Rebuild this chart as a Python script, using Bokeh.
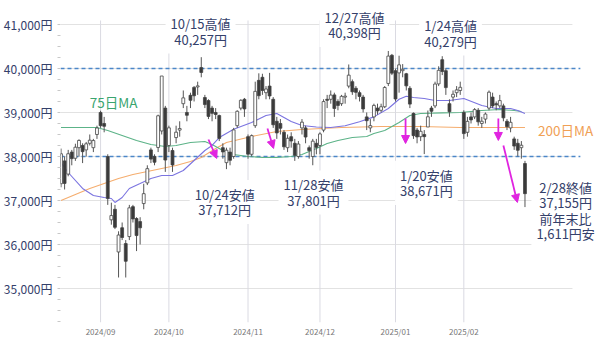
from bokeh.plotting import figure
from bokeh.models import (ColumnDataSource, Label, Arrow, NormalHead,
                          FixedTicker, Range1d)
from bokeh.embed import file_html
from bokeh.resources import INLINE

# ---------------- data ----------------
trade_days = [
    ("2024-08", [16, 19, 20, 21, 22, 23, 26, 27, 28, 29, 30]),
    ("2024-09", [2, 3, 4, 5, 6, 9, 10, 11, 12, 13, 17, 18, 19, 20, 24, 25, 26, 27, 30]),
    ("2024-10", [1, 2, 3, 4, 7, 8, 9, 10, 11, 15, 16, 17, 18, 21, 22, 23, 24, 25, 28, 29, 30, 31]),
    ("2024-11", [1, 5, 6, 7, 8, 11, 12, 13, 14, 15, 18, 19, 20, 21, 22, 25, 26, 27, 28, 29]),
    ("2024-12", [2, 3, 4, 5, 6, 9, 10, 11, 12, 13, 16, 17, 18, 19, 20, 23, 24, 25, 26, 27, 30]),
    ("2025-01", [6, 7, 8, 9, 10, 14, 15, 16, 17, 20, 21, 22, 23, 24, 27, 28, 29, 30, 31]),
    ("2025-02", [3, 4, 5, 6, 7, 10, 12, 13, 14, 17, 18, 19, 20, 21, 25, 26, 27, 28]),
]

open_ = [
    37380, 37900, 37600, 38100, 37960, 38200, 38250, 38150, 38300, 38200, 38500,
    39000, 38750, 38000, 36560, 36800, 35830, 36380, 36020, 36180, 36860, 36590, 36520, 36930, 37400, 38150, 38000, 38205, 38580, 39100,
    38250, 38136, 38430, 38600, 39200, 39000, 39390, 39570, 39580, 40020, 39340, 39270, 39100, 39000, 38930, 38200, 37860, 38100, 38000, 38700, 39100, 39300,
    38450, 38050, 38700, 39730, 39800, 39450, 39600, 39300, 38800, 38750, 38550, 38200, 38450, 38300, 38000, 38650, 38650, 38200, 38000, 38300,
    38250, 38600, 39300, 39300, 39400, 39250, 39200, 39350, 39600, 39700, 39550, 39450, 39350, 38900, 38650, 38900, 39100, 39050, 39130, 39660, 40300,
    39950, 39900, 39950, 39880, 39550, 38980, 38600, 38450, 38500, 38671, 39100, 39150, 39650, 40200, 39950, 39200, 39350, 39450, 39500,
    39000, 38550, 38900, 38900, 39050, 38750, 38850, 39100, 39350, 39200, 39150, 39150, 38800, 38650, 38400, 38300, 38200, 37840,
]
high = [
    38180, 38000, 38150, 38150, 38290, 38390, 38300, 38330, 38500, 38400, 38700,
    39040, 38900, 38050, 36950, 36900, 36300, 36500, 36100, 36900, 36900, 36620, 36620, 37380, 37800, 38200, 38050, 38950, 39829, 39150,
    38700, 38200, 38700, 38800, 39500, 39150, 39450, 39600, 39700, 40257, 39400, 39300, 39150, 39100, 38950, 38300, 38200, 38200, 38650, 39050, 39300, 39330,
    38500, 38500, 39700, 39890, 39880, 39600, 39900, 39350, 38900, 38850, 38600, 38500, 38550, 38400, 38350, 38850, 38700, 38250, 38400, 38400,
    38550, 39300, 39400, 39500, 39450, 39300, 39400, 39450, 40091, 39750, 39600, 39500, 39400, 39000, 38850, 39200, 39200, 39200, 39600, 40398, 40330,
    40000, 40290, 40100, 39900, 39600, 39000, 38650, 38700, 38600, 39045, 39150, 39700, 40050, 40279, 40000, 39300, 39500, 39600, 39700,
    39050, 38900, 39000, 39100, 39100, 38900, 39000, 39500, 39450, 39250, 39400, 39200, 38850, 38900, 38450, 38400, 38350, 37900,
]
low = [
    37300, 37250, 37550, 37800, 37900, 38000, 37850, 38000, 38250, 38100, 38400,
    38650, 38550, 36900, 36450, 36350, 35250, 36100, 35250, 36100, 36500, 35850, 36000, 36800, 37350, 37850, 37800, 38100, 38500, 37650,
    38100, 37650, 38300, 38450, 39100, 38800, 39100, 39250, 39400, 39800, 39100, 38850, 38800, 38850, 38350, 37950, 37712, 37800, 37950, 38650, 39050, 38900,
    37950, 38000, 38650, 39300, 39400, 39300, 39300, 38650, 38400, 38500, 38150, 38100, 38200, 37900, 37950, 38500, 38300, 37950, 37801, 38050,
    38050, 38550, 39100, 39200, 38900, 39050, 39150, 39200, 39550, 39400, 39300, 39250, 39000, 38600, 38550, 38800, 38950, 39000, 39100, 39600, 39850,
    39250, 39450, 39800, 39500, 39100, 38400, 38300, 38350, 38055, 38671, 38900, 39100, 39600, 39850, 39400, 38900, 39250, 39350, 39400,
    38400, 38450, 38750, 38850, 38700, 38650, 38750, 39050, 39100, 39050, 39100, 38800, 38600, 38550, 38150, 38000, 37950, 36850,
]
close = [
    38062, 37388, 38062, 37951, 38211, 38364, 38110, 38288, 38371, 38362, 38647,
    38700, 38686, 37047, 36657, 36391, 36215, 36159, 35619, 36833, 36581, 36203, 36380, 37155, 37723, 37940, 37870, 38925, 39829, 37919,
    38651, 37808, 38552, 38635, 39332, 38937, 39277, 39380, 39605, 39910, 39180, 38911, 38981, 38954, 38411, 38104, 38143, 37913, 38605, 39027, 39277, 39081,
    38053, 38474, 39480, 39381, 39500, 39533, 39376, 38721, 38535, 38642, 38220, 38414, 38352, 38026, 38283, 38780, 38442, 38134, 38349, 38208,
    38513, 39248, 39276, 39395, 39091, 39160, 39367, 39372, 39849, 39470, 39457, 39364, 39081, 38813, 38701, 39161, 39036, 39130, 39568, 40281, 39894,
    39307, 40083, 39981, 39605, 39190, 38474, 38444, 38572, 38451, 38902, 39027, 39646, 39958, 39931, 39565, 39016, 39414, 39513, 39572,
    38520, 38798, 38831, 39066, 38787, 38801, 38963, 39461, 39149, 39174, 39270, 38878, 38678, 38776, 38237, 38142, 38256, 37155,
]

# moving averages (trading-day number counted from 2024-08-16)
ma25_day = [0, 2, 6, 9, 12, 14, 15, 17, 19, 22, 25, 28, 31, 34, 37, 40, 42, 44, 48, 53, 57, 60, 62, 64, 67, 71,
            75, 79, 83, 87, 91, 94, 96, 98, 101, 104, 108, 112, 117, 121, 125, 127, 129]
ma25_val = [37864, 37636, 37273, 37114, 37068, 37045, 36955, 37068, 37273, 37386, 37500, 37568, 37568, 37682,
            37909, 38136, 38250, 38430, 38620, 38773, 38932, 38977, 38886, 38795, 38705, 38670,
            38660, 38700, 38790, 38900, 39090, 39300, 39370, 39340, 39318, 39273, 39273, 39318, 39160, 39091,
            39091, 39045, 38977]
ma75_day = [0, 4, 10, 13, 17, 21, 25, 29, 32, 36, 40, 42, 45, 48, 52, 56, 60, 64, 67, 71, 74, 77, 81, 85,
            87, 90, 92, 94, 97, 100, 106, 111, 117, 122, 126, 128]
ma75_val = [38659, 38659, 38659, 38591, 38477, 38364, 38273, 38227, 38250, 38318, 38341, 38273, 38136, 38045,
            38000, 37977, 37977, 38000, 38045, 38182, 38295, 38364, 38432, 38455, 38523, 38591, 38682, 38773,
            38930, 38977, 38990, 39000, 39045, 39068, 39045, 39023]
ma200_day = [0, 4, 8, 12, 16, 20, 24, 28, 32, 36, 39, 43, 46, 53, 60, 67, 78, 89, 100, 111, 129]
ma200_val = [37000, 37136, 37273, 37386, 37500, 37591, 37659, 37727, 37795, 37886, 37977, 38182, 38318,
             38455, 38568, 38614, 38659, 38682, 38682, 38659, 38659]

month_keys = ["2024-09", "2024-10", "2024-11", "2024-12", "2025-01", "2025-02"]
month_labels = ["2024/09", "2024/10", "2024/11", "2024/12", "2025/01", "2025/02"]
y_ticks = [35000, 36000, 37000, 38000, 39000, 40000, 41000]
y_tick_labels = ["35,000円", "36,000円", "37,000円", "38,000円", "39,000円", "40,000円", "41,000円"]
ref_levels = [40000, 38000]

# annotations: (x in trading days, y in yen, text)
notes = [
    (38.8, 40841, "10/15高値\n40,257円"),
    (81.6, 40989, "12/27高値\n40,398円"),
    (108.3, 40795, "1/24高値\n40,279円"),
    (45.5, 36966, "10/24安値\n37,712円"),
    (70.2, 37182, "11/28安値\n37,801円"),
    (101.6, 37398, "1/20安値\n38,671円"),
    (140.3, 36773, "2/28終値\n37,155円\n前年末比\n1,611円安"),
]
arrows = [
    (41.0, 38386, 43.3, 37955),
    (57.4, 38636, 59.1, 38182),
    (95.8, 38864, 95.8, 38295),
    (121.6, 38864, 121.6, 38364),
    (123.0, 38250, 126.9, 36955),
]

# ---------------- build ----------------
dates = [f"{ym}-{d:02d}" for ym, days in trade_days for d in days]
xs = list(range(len(dates)))
month_ticks = [next(i for i, d in enumerate(dates) if d.startswith(k)) for k in month_keys]

src = ColumnDataSource(dict(
    x=xs, low=low, high=high,
    top=[max(o, c) for o, c in zip(open_, close)],
    bottom=[min(o, c) for o, c in zip(open_, close)],
    fill=["#ffffff" if c >= o else "#3a3a3a" for o, c in zip(open_, close)],
))

FONT = "Noto Sans CJK JP"
NAVY = "#34406a"

X0, X1 = -0.14, 150.0          # visible trading-day range
Y0, Y1 = 34227, 41545          # visible price range
GRID_R, DASH_R, GRID_T = 142.2, 144.4, 41091   # extent of grid / dashed lines

p = figure(width=600, height=343, output_backend="svg", toolbar_location=None,
           x_range=Range1d(X0, X1), y_range=Range1d(Y0, Y1),
           min_border_left=60, min_border_right=0, min_border_top=0, min_border_bottom=21)
p.outline_line_color = None
p.background_fill_color = "white"
p.border_fill_color = "white"
p.grid.visible = False

minor = [t - 250 * k for t in y_ticks for k in (1, 2, 3)] + [t for t in y_ticks if t <= 41000]
minor = sorted(m for m in minor if Y0 < m <= 41000)
p.yaxis.ticker = FixedTicker(ticks=y_ticks, minor_ticks=minor)
p.yaxis.major_label_overrides = {v: t for v, t in zip(y_ticks, y_tick_labels)}
p.yaxis.axis_line_color = None
p.yaxis.major_tick_line_color = None
p.yaxis.major_tick_out = 0
p.yaxis.minor_tick_line_color = "#c8c8c8"
p.yaxis.minor_tick_out = 3
p.yaxis.minor_tick_in = 0
p.yaxis.major_label_standoff = 5
p.yaxis.major_label_text_font = FONT
p.yaxis.major_label_text_font_size = "12px"
p.yaxis.major_label_text_color = NAVY

p.xaxis.ticker = FixedTicker(ticks=month_ticks)
p.xaxis.major_label_overrides = {t: l for t, l in zip(month_ticks, month_labels)}
p.xaxis.axis_line_color = None
p.xaxis.major_tick_line_color = None
p.xaxis.minor_tick_line_color = None
p.xaxis.major_tick_out = 0
p.xaxis.major_label_standoff = 3
p.xaxis.major_label_text_font = FONT
p.xaxis.major_label_text_font_size = "8px"
p.xaxis.major_label_text_color = "#777777"

# grid lines
p.segment(x0=[0] * len(y_ticks), y0=y_ticks, x1=[GRID_R] * len(y_ticks), y1=y_ticks,
          line_color="#e2e2e2", line_width=1)
p.segment(x0=month_ticks, y0=[Y0] * len(month_ticks), x1=month_ticks, y1=[GRID_T] * len(month_ticks),
          line_color="#dadae2", line_width=1)
p.segment(x0=[X0] * len(ref_levels), y0=ref_levels, x1=[DASH_R] * len(ref_levels), y1=ref_levels,
          line_color="#4b87c9", line_dash="4 3", line_width=1.4)

p.line(ma200_day, ma200_val, line_color="#f5ad6e", line_width=1.1)
p.line(ma75_day, ma75_val, line_color="#5cb388", line_width=1.1)
p.line(ma25_day, ma25_val, line_color="#7b74e0", line_width=1.1)

p.segment(x0="x", y0="low", x1="x", y1="high", line_color="#555555", line_width=1, source=src)
p.vbar(x="x", width=0.8, top="top", bottom="bottom", fill_color="fill",
       line_color="#444444", line_width=0.8, source=src)

MAG = "#e024e0"
for x0, y0, x1, y1 in arrows:
    p.add_layout(Arrow(end=NormalHead(size=8, fill_color=MAG, line_color=MAG, line_width=1),
                       x_start=x0, y_start=y0, x_end=x1, y_end=y1,
                       line_color=MAG, line_width=1.8))

for x, y, t in notes:
    p.add_layout(Label(x=x, y=y, text=t, text_align="center", text_baseline="middle",
                       text_font=FONT, text_font_size="13px", text_color=NAVY,
                       text_line_height=0.8, background_fill_color="white", padding=5))

p.add_layout(Label(x=14.6, y=39227, text="75日MA", text_align="center", text_baseline="middle",
                   text_font=FONT, text_font_size="13.5px", text_color="#3aa56f"))
p.add_layout(Label(x=140.3, y=38591, text="200日MA", text_align="center", text_baseline="middle",
                   text_font=FONT, text_font_size="13.5px", text_color="#f0a055"))

open("out.html", "w").write(file_html(p, INLINE))
